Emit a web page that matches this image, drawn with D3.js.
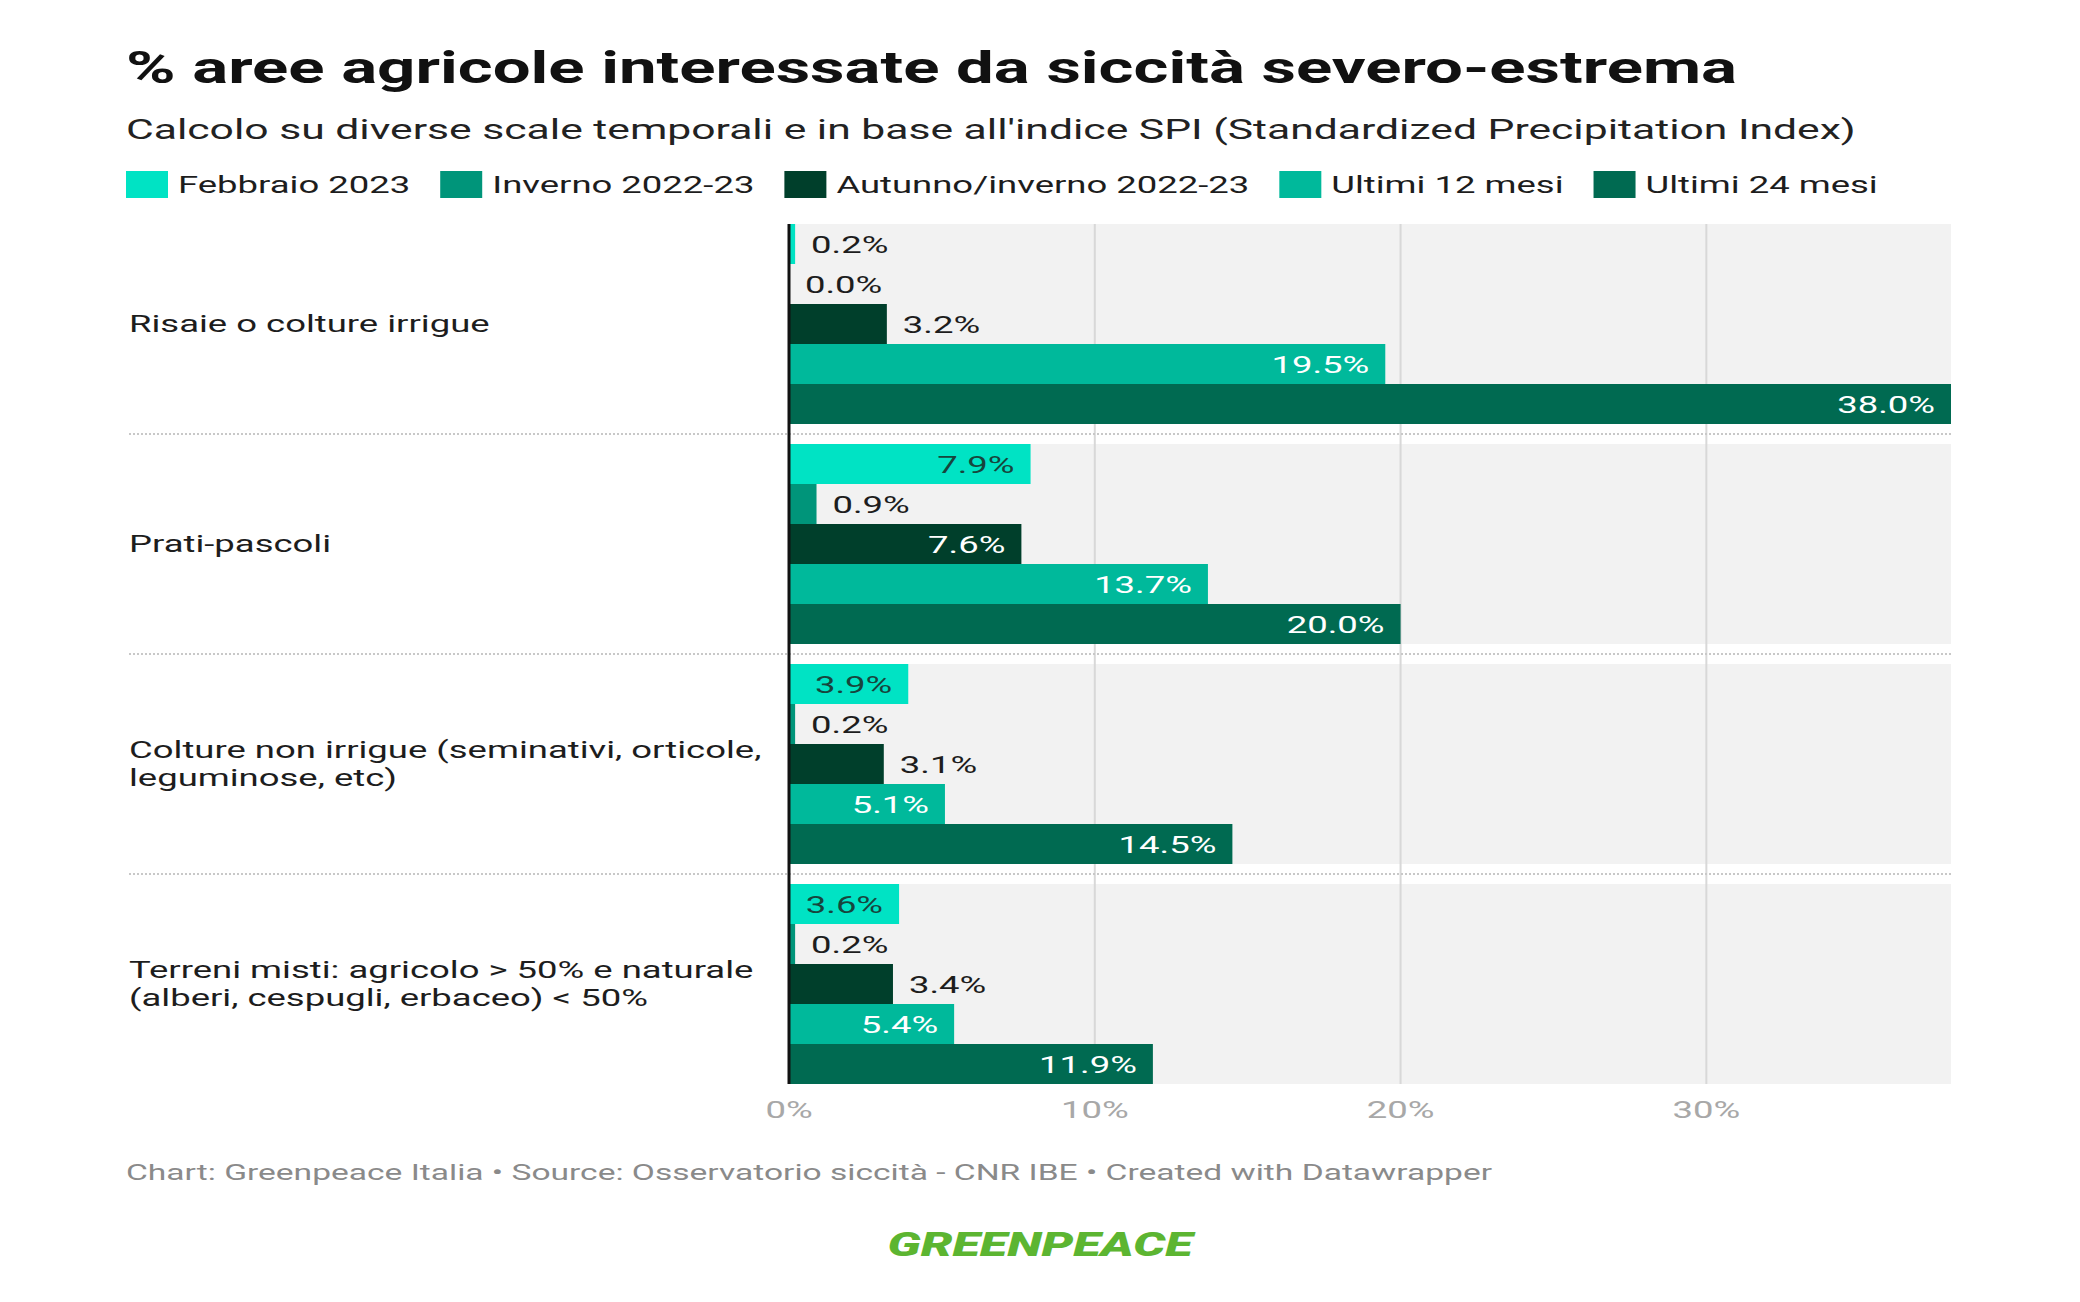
<!DOCTYPE html>
<html><head><meta charset="utf-8">
<script src="https://cdn.jsdelivr.net/npm/d3@7"></script>
<style>
html,body{margin:0;padding:0;background:#fff;}
svg text{font-family:Roboto,"Noto Sans",sans-serif;}
</style></head>
<body><svg id="c" width="2080" height="1302"></svg>
<script>
const categories = [
  "Risaie o colture irrigue",
  "Prati-pascoli",
  "Colture non irrigue (seminativi, orticole,\nleguminose, etc)",
  "Terreni misti: agricolo > 50% e naturale\n(alberi, cespugli, erbaceo) < 50%"
];
const seriesNames = ["Febbraio 2023","Inverno 2022-23","Autunno/inverno 2022-23","Ultimi 12 mesi","Ultimi 24 mesi"];
const seriesColors = ["#00e3c4","#00957a","#003f2b","#00b99b","#006a51"];
const febbraio2023 = [0.2, 7.9, 3.9, 3.6];
const inverno2022 = [0.0, 0.9, 0.2, 0.2];
const autunnoInverno = [3.2, 7.6, 3.1, 3.4];
const ultimi12 = [19.5, 13.7, 5.1, 5.4];
const ultimi24 = [38.0, 20.0, 14.5, 11.9];
const tickValues = [0, 10, 20, 30];
const tickLabels = ["0%","10%","20%","30%"];
const title = "% aree agricole interessate da siccità severo-estrema";
const subtitle = "Calcolo su diverse scale temporali e in base all'indice SPI (Standardized Precipitation Index)";
const footer = "Chart: Greenpeace Italia • Source: Osservatorio siccità - CNR IBE • Created with Datawrapper";

const seriesValues = [febbraio2023, inverno2022, autunnoInverno, ultimi12, ultimi24];
const SX = 1.52;
const svg = d3.select("#c");

function stext(g, x, y, str, opts) {
  const t = g.append("text")
    .attr("transform", `translate(${x},${y}) scale(${opts.sx || SX},1)`)
    .attr("font-size", opts.size)
    .attr("font-weight", opts.weight || 400)
    .attr("fill", opts.fill || "#1d1d1d")
    .attr("text-anchor", opts.anchor || "start")
    .attr("dominant-baseline", opts.baseline || "auto")
    .text(str);
  if (opts.style) t.attr("font-style", opts.style);
  return t;
}

const left = 126;
// Title & subtitle
stext(svg, left, 83, title, {size: 44, weight: 700, fill: "#111", sx: 1.525});
stext(svg, left, 139, subtitle, {size: 28, fill: "#222", sx: 1.523});

// Legend
let lx = left;
seriesNames.forEach((name, i) => {
  svg.append("rect").attr("x", lx).attr("y", 171).attr("width", 42).attr("height", 27).attr("fill", seriesColors[i]);
  const t = stext(svg, lx + 52, 193, name, {size: 24, fill: "#1d1d1d"});
  const w = t.node().getComputedTextLength() * SX;
  lx = lx + 52 + w + 30;
});

// Scales
const x = d3.scaleLinear().domain([0, 38]).range([789, 1951]);
const y = d3.scaleBand().domain(d3.range(categories.length)).range([224, 1084]).paddingInner(20/220).paddingOuter(0);
const yi = d3.scaleBand().domain(d3.range(seriesNames.length)).range([0, y.bandwidth()]);

const plot = svg.append("g");
// group backgrounds
plot.selectAll("rect.bg").data(categories).enter().append("rect")
  .attr("x", x(0)).attr("y", (d,i) => y(i)).attr("width", x(38) - x(0)).attr("height", y.bandwidth())
  .attr("fill", "#f2f2f2");

// gridlines
plot.selectAll("line.grid").data(tickValues.filter(v => v > 0)).enter().append("line")
  .attr("x1", d => x(d)).attr("x2", d => x(d)).attr("y1", y(0)).attr("y2", y(categories.length-1) + y.bandwidth())
  .attr("stroke", "#d8d8d8").attr("stroke-width", 2);

// separators
plot.selectAll("line.sep").data(d3.range(categories.length - 1)).enter().append("line")
  .attr("x1", 129).attr("x2", x(38))
  .attr("y1", d => y(d) + y.bandwidth() + (y.step() - y.bandwidth())/2)
  .attr("y2", d => y(d) + y.bandwidth() + (y.step() - y.bandwidth())/2)
  .attr("stroke", "#c8c8c8").attr("stroke-width", 2).attr("stroke-dasharray", "2,2");

// category labels
categories.forEach((c, i) => {
  const lines = c.split("\n");
  const cy = y(i) + y.bandwidth()/2;
  const lh = 27.5;
  lines.forEach((ln, k) => {
    const ly = cy + (k - (lines.length - 1)/2) * lh;
    stext(svg, 129, ly, ln, {size: 24, fill: "#1d1d1d", baseline: "central"});
  });
});

// bars and labels
const insideText = ["#17453c", "#ffffff", "#ffffff", "#ffffff", "#ffffff"];
categories.forEach((c, i) => {
  seriesValues.forEach((vals, s) => {
    const v = vals[i];
    const by = y(i) + yi(s);
    const bw = x(v) - x(0);
    plot.append("rect").attr("x", x(0)).attr("y", by).attr("width", bw).attr("height", yi.bandwidth())
      .attr("fill", seriesColors[s]);
    const label = v.toFixed(1) + "%";
    const t = stext(plot, 0, 0, label, {size: 24, baseline: "central"});
    const tw = t.node().getComputedTextLength() * SX;
    const cy = by + yi.bandwidth()/2 + 1;
    if (bw >= tw + 30) {
      t.attr("transform", `translate(${x(v) - 16},${cy}) scale(${SX},1)`).attr("text-anchor", "end").attr("fill", insideText[s]);
    } else {
      t.attr("transform", `translate(${x(v) + 16},${cy}) scale(${SX},1)`).attr("fill", "#1d1d1d");
    }
  });
});

// zero line
plot.append("line").attr("x1", x(0)).attr("x2", x(0)).attr("y1", y(0)).attr("y2", y(categories.length-1) + y.bandwidth())
  .attr("stroke", "#111").attr("stroke-width", 3);

// axis tick labels
tickValues.forEach((v, i) => {
  stext(svg, x(v), 1110, tickLabels[i], {size: 24, fill: "#a8a8a8", anchor: "middle", baseline: "central"});
});

// footer
stext(svg, left, 1173, footer, {size: 22, fill: "#8a8a8a", baseline: "central", sx: 1.525});

// logo
stext(svg, 1040, 1244, "GREENPEACE", {size: 34, weight: 900, style: "italic", fill: "#5cb531", anchor: "middle", baseline: "central", sx: 1.48});
</script></body></html>
